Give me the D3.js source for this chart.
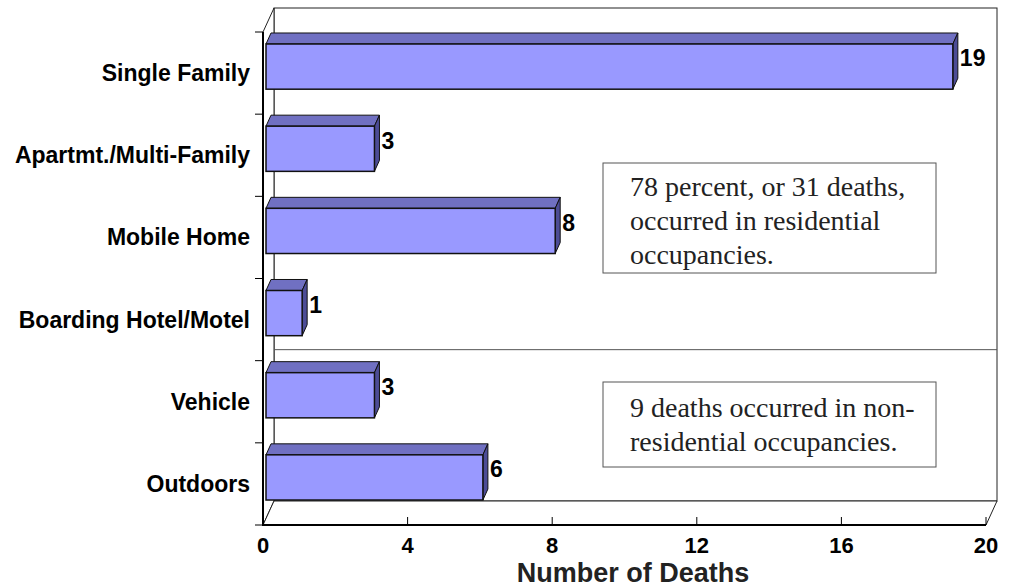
<!DOCTYPE html>
<html>
<head>
<meta charset="utf-8">
<script src="https://cdn.jsdelivr.net/npm/d3@7"></script>
<style>
  body { margin: 0; background: #fff; }
  svg { display: block; }
</style>
</head>
<body>
<script>
// data
var categories = ['Single Family', 'Apartmt./Multi-Family', 'Mobile Home',
                  'Boarding Hotel/Motel', 'Vehicle', 'Outdoors'];
var deaths = [19, 3, 8, 1, 3, 6];
var xTicks = [0, 4, 8, 12, 16, 20];
var xTitle = 'Number of Deaths';
var noteResidential = ['78 percent, or 31 deaths,', 'occurred in residential', 'occupancies.'];
var noteOther = ['9 deaths occurred in non-', 'residential occupancies.'];

var width = 1016, height = 588;

var svg = d3.select('body').append('svg')
    .attr('width', width)
    .attr('height', height);

var x = d3.scaleLinear().domain([0, 20]).range([263, 986]);
var y = d3.scaleBand().domain(categories).range([32, 525]);

// depth of the walls and of the bars (3d look)
var wdx = 11, wdy = -24;
var bdx = 5, bdy = -11;
var x0 = x.range()[0], x1 = x.range()[1];
var y0 = y.range()[0], y1 = y.range()[1];

function pts(a) { return a.map(function(p) { return p.join(','); }).join(' '); }

// back wall
svg.append('rect')
    .attr('x', x0 + wdx).attr('y', y0 + wdy)
    .attr('width', x1 - x0).attr('height', y1 - y0)
    .attr('fill', '#fff').attr('stroke', '#222').attr('stroke-width', 1);
// left wall
svg.append('polygon')
    .attr('points', pts([[x0, y0], [x0 + wdx, y0 + wdy], [x0 + wdx, y1 + wdy], [x0, y1]]))
    .attr('fill', '#fff').attr('stroke', '#222').attr('stroke-width', 1);
// floor
svg.append('polygon')
    .attr('points', pts([[x0, y1], [x1, y1], [x1 + wdx, y1 + wdy], [x0 + wdx, y1 + wdy]]))
    .attr('fill', '#fff').attr('stroke', '#222').attr('stroke-width', 1);

// line between residential and non-residential
svg.append('line')
    .attr('x1', x0 + wdx).attr('x2', x1 + wdx)
    .attr('y1', y('Vehicle') + bdy).attr('y2', y('Vehicle') + bdy)
    .attr('stroke', '#555').attr('stroke-width', 1);

// front axes
svg.append('line')
    .attr('x1', x0).attr('x2', x0).attr('y1', y0).attr('y2', y1 + 1)
    .attr('stroke', '#000').attr('stroke-width', 2);
svg.append('line')
    .attr('x1', x0).attr('x2', x1).attr('y1', y1).attr('y2', y1)
    .attr('stroke', '#000').attr('stroke-width', 2);

// y ticks at band edges
var edges = categories.map(function(c) { return y(c); }).concat([y1]);
svg.selectAll('.ytick').data(edges).enter().append('line')
    .attr('class', 'ytick')
    .attr('x1', x0 - 8).attr('x2', x0)
    .attr('y1', function(d) { return d; }).attr('y2', function(d) { return d; })
    .attr('stroke', '#000').attr('stroke-width', 1);

// x ticks
svg.selectAll('.xtick').data(xTicks).enter().append('line')
    .attr('class', 'xtick')
    .attr('x1', function(d) { return x(d); }).attr('x2', function(d) { return x(d); })
    .attr('y1', y1 - 8).attr('y2', y1)
    .attr('stroke', '#000').attr('stroke-width', 1);
svg.selectAll('.xlab').data(xTicks).enter().append('text')
    .attr('class', 'xlab')
    .attr('x', function(d) { return x(d); })
    .attr('y', 553)
    .attr('text-anchor', 'middle')
    .attr('font-family', 'Liberation Sans, Arial, sans-serif')
    .attr('font-weight', 'bold')
    .attr('font-size', 22)
    .text(function(d) { return d; });
svg.append('text')
    .attr('x', 633).attr('y', 582)
    .attr('text-anchor', 'middle')
    .attr('font-family', 'Liberation Sans, Arial, sans-serif')
    .attr('font-weight', 'bold')
    .attr('font-size', 27)
    .attr('fill', '#222')
    .text(xTitle);

// category labels
svg.selectAll('.ylab').data(categories).enter().append('text')
    .attr('class', 'ylab')
    .attr('x', 250)
    .attr('y', function(d) { return y(d) + y.bandwidth() / 2; })
    .attr('dy', '0.35em')
    .attr('text-anchor', 'end')
    .attr('font-family', 'Liberation Sans, Arial, sans-serif')
    .attr('font-weight', 'bold')
    .attr('font-size', 23)
    .text(function(d) { return d; });

// bars
var data = categories.map(function(c, i) { return { cat: c, v: deaths[i] }; });
var bw = y.bandwidth();
var bar = svg.selectAll('.bar').data(data).enter().append('g')
    .attr('class', 'bar');

function face(d) {
  var l = x(0) + 3, r = x(d.v) + 3;
  var t = y(d.cat) + bw * 0.146, b = t + bw * 0.55;
  return { l: l, r: r, t: t, b: b };
}
bar.append('polygon')
    .attr('points', function(d) {
      var f = face(d);
      return pts([[f.l, f.t], [f.l + bdx, f.t + bdy], [f.r + bdx, f.t + bdy], [f.r, f.t]]);
    })
    .attr('fill', '#7070C2').attr('stroke', '#111').attr('stroke-width', 1);
bar.append('polygon')
    .attr('points', function(d) {
      var f = face(d);
      return pts([[f.r, f.t], [f.r + bdx, f.t + bdy], [f.r + bdx, f.b + bdy], [f.r, f.b]]);
    })
    .attr('fill', '#4C4C96').attr('stroke', '#111').attr('stroke-width', 1);
bar.append('rect')
    .attr('x', function(d) { return face(d).l; })
    .attr('y', function(d) { return face(d).t; })
    .attr('width', function(d) { var f = face(d); return f.r - f.l; })
    .attr('height', function(d) { var f = face(d); return f.b - f.t; })
    .attr('fill', '#9999FF').attr('stroke', '#111').attr('stroke-width', 1.5);
bar.append('text')
    .attr('x', function(d) { return face(d).r + bdx + 2; })
    .attr('y', function(d) { return y(d.cat) + bw * 0.32; })
    .attr('dy', '0.35em')
    .attr('font-family', 'Liberation Sans, Arial, sans-serif')
    .attr('font-weight', 'bold')
    .attr('font-size', 23)
    .text(function(d) { return d.v; });

// note boxes
function note(lines, bx, by, bwid, bh, ty) {
  var g = svg.append('g');
  g.append('rect')
      .attr('x', bx).attr('y', by).attr('width', bwid).attr('height', bh)
      .attr('fill', '#fff').attr('stroke', '#555').attr('stroke-width', 1);
  g.selectAll('text').data(lines).enter().append('text')
      .attr('x', bx + 27)
      .attr('y', function(d, i) { return ty + i * 34; })
      .attr('font-family', 'Liberation Serif, Times New Roman, serif')
      .attr('font-size', 28)
      .attr('fill', '#222')
      .text(function(d) { return d; });
}
note(noteResidential, 603, 163, 333, 110, 196);
note(noteOther, 603, 382, 333, 85, 417);
</script>
</body>
</html>
